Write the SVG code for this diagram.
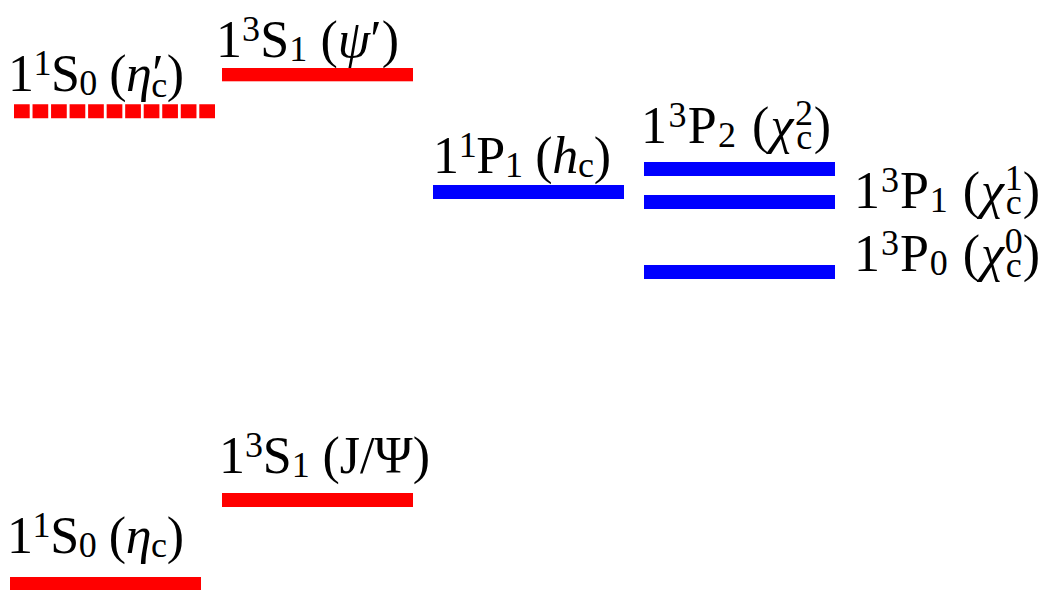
<svg xmlns="http://www.w3.org/2000/svg" width="1045" height="590" viewBox="0 0 1045 590">
<style>
.lbl{font-family:"Liberation Serif","Times New Roman",serif;font-size:52px;fill:#000}
.s{font-size:36px}
.it{font-style:italic}
.red{fill:#ff0000}
.blue{fill:#0000ff}
.dash{stroke:#ff0000;stroke-width:14;stroke-dasharray:15.7 2.83;fill:none}
</style>
<rect width="1045" height="590" fill="#ffffff"/>
<g id="eta-c-prime">
<line class="dash" x1="14" y1="111.3" x2="215" y2="111.3"/>
<text class="lbl" x="8" y="91" textLength="176" lengthAdjust="spacing">1<tspan class="s" dy="-16">1</tspan><tspan dy="16">S</tspan><tspan class="s" dy="4">0</tspan><tspan dy="-4"> (</tspan><tspan class="it">η</tspan><tspan dx="1">′</tspan><tspan class="s" dx="-12" dy="6">c</tspan><tspan dy="-6">)</tspan></text>
</g>
<g id="psi-prime">
<rect class="red" x="222" y="68" width="191" height="13.3"/>
<text class="lbl" x="216" y="57" textLength="183" lengthAdjust="spacing">1<tspan class="s" dy="-16">3</tspan><tspan dy="16">S</tspan><tspan class="s" dy="4">1</tspan><tspan dy="-4"> (</tspan><tspan class="it">ψ</tspan><tspan>′)</tspan></text>
</g>
<g id="h-c">
<rect class="blue" x="433" y="185" width="191" height="14"/>
<text class="lbl" x="433" y="172.5" textLength="178" lengthAdjust="spacing">1<tspan class="s" dy="-16">1</tspan><tspan dy="16">P</tspan><tspan class="s" dy="4">1</tspan><tspan dy="-4"> (</tspan><tspan class="it">h</tspan><tspan class="s" dy="4">c</tspan><tspan dy="-4">)</tspan></text>
</g>
<g id="chi-c2">
<rect class="blue" x="644" y="162" width="191" height="14"/>
<text class="lbl" x="641" y="143" textLength="190" lengthAdjust="spacing">1<tspan class="s" dy="-16">3</tspan><tspan dy="16">P</tspan><tspan class="s" dy="4">2</tspan><tspan dy="-4"> (</tspan><tspan class="it">χ</tspan><tspan class="s" dy="-18">2</tspan><tspan class="s" dx="-18" dy="24">c</tspan><tspan dy="-6">)</tspan></text>
</g>
<g id="chi-c1">
<rect class="blue" x="644" y="195" width="191" height="14"/>
<text class="lbl" x="854" y="208" textLength="186" lengthAdjust="spacing">1<tspan class="s" dy="-16">3</tspan><tspan dy="16">P</tspan><tspan class="s" dy="4">1</tspan><tspan dy="-4"> (</tspan><tspan class="it">χ</tspan><tspan class="s" dy="-18">1</tspan><tspan class="s" dx="-18" dy="24">c</tspan><tspan dy="-6">)</tspan></text>
</g>
<g id="chi-c0">
<rect class="blue" x="644" y="265" width="191" height="14"/>
<text class="lbl" x="854" y="271" textLength="186" lengthAdjust="spacing">1<tspan class="s" dy="-16">3</tspan><tspan dy="16">P</tspan><tspan class="s" dy="4">0</tspan><tspan dy="-4"> (</tspan><tspan class="it">χ</tspan><tspan class="s" dy="-18">0</tspan><tspan class="s" dx="-18" dy="24">c</tspan><tspan dy="-6">)</tspan></text>
</g>
<g id="j-psi">
<rect class="red" x="222" y="493" width="191" height="14"/>
<text class="lbl" x="219" y="473" textLength="211" lengthAdjust="spacing">1<tspan class="s" dy="-16">3</tspan><tspan dy="16">S</tspan><tspan class="s" dy="4">1</tspan><tspan dy="-4"> (J/Ψ)</tspan></text>
</g>
<g id="eta-c">
<rect class="red" x="10" y="577" width="191" height="13"/>
<text class="lbl" x="7" y="553" textLength="177" lengthAdjust="spacing">1<tspan class="s" dy="-16">1</tspan><tspan dy="16">S</tspan><tspan class="s" dy="4">0</tspan><tspan dy="-4"> (</tspan><tspan class="it">η</tspan><tspan class="s" dy="4">c</tspan><tspan dy="-4">)</tspan></text>
</g>
</svg>
